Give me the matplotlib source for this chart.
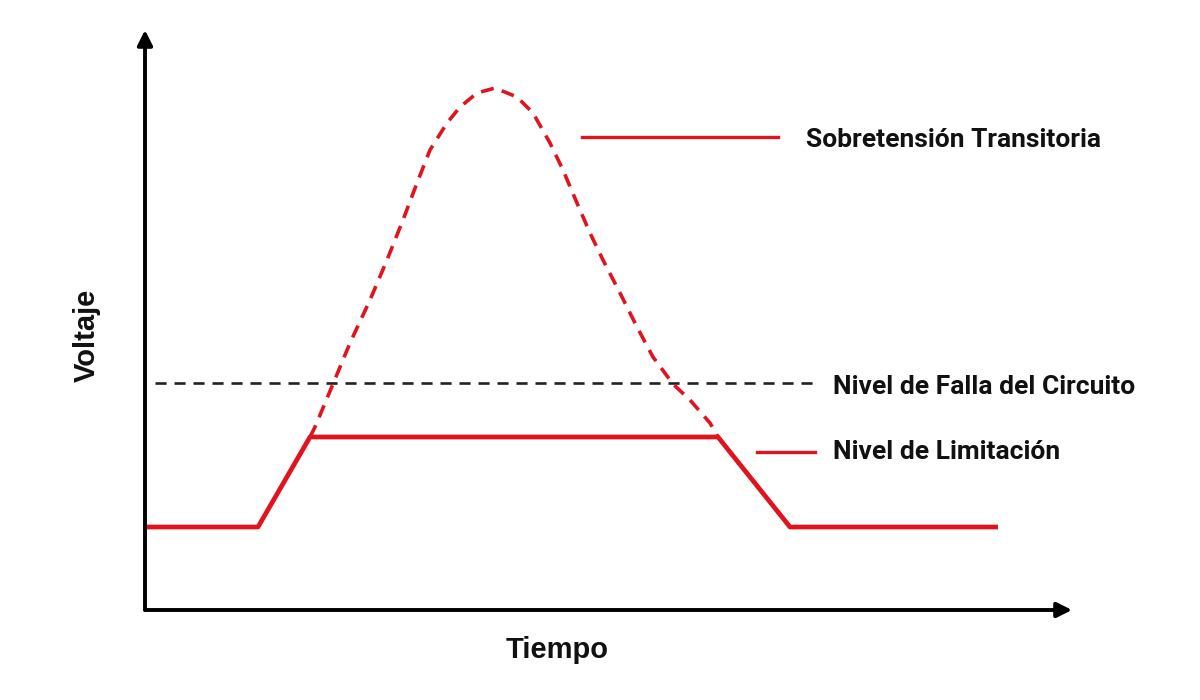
import matplotlib
matplotlib.use("Agg")
import matplotlib.pyplot as plt

# --- data (time, voltage in arbitrary units) ---
clamp_t = [0.0, 1.13, 1.65, 5.73, 6.45, 8.53]
clamp_v = [0.83, 0.83, 1.73, 1.73, 0.83, 0.83]

surge_t = [1.65, 1.70, 1.88, 2.05, 2.25, 2.42, 2.58, 2.72, 2.85, 3.02, 3.15, 3.32,
           3.50, 3.72, 3.88, 4.05, 4.18, 4.32, 4.45, 4.58, 4.75, 4.92, 5.08, 5.28,
           5.45, 5.65, 5.73]
surge_v = [1.73, 1.83, 2.26, 2.67, 3.10, 3.50, 3.90, 4.27, 4.60, 4.87, 5.03, 5.17,
           5.22, 5.13, 4.97, 4.67, 4.40, 4.07, 3.77, 3.50, 3.17, 2.83, 2.53, 2.26,
           2.10, 1.87, 1.73]

fault_t = [0.10, 6.75]
fault_v = [2.27, 2.27]

labels = ["Sobretensión Transitoria", "Nivel de Falla del Circuito", "Nivel de Limitación"]
xlabel = "Tiempo"
ylabel = "Voltaje"

RED = "#e0141e"

fig = plt.figure(figsize=(12, 7), dpi=100)
ax = fig.add_axes([145/1200, 90/700, 927/1200, 580/700])
ax.set_xlim(0, 9.27)
ax.set_ylim(0, 5.8)
for s in ax.spines.values():
    s.set_visible(False)
ax.set_xticks([])
ax.set_yticks([])

# axes arrows
arrow = dict(arrowstyle="-|>,head_length=0.9,head_width=0.45", lw=2.8, color="black",
             shrinkA=0, shrinkB=0)
ax.annotate("", xy=(0, 1), xytext=(0, 0), xycoords="axes fraction", arrowprops=arrow)
ax.annotate("", xy=(1, 0), xytext=(0, 0), xycoords="axes fraction", arrowprops=arrow)

# lines
ax.plot(fault_t, fault_v, color="#222222", lw=1.9, ls=(0, (4.2, 3.0)), clip_on=False)
ax.plot(surge_t, surge_v, color=RED, lw=2.6, ls=(0, (3.6, 2.4)), clip_on=False)
ax.plot(clamp_t, clamp_v, color=RED, lw=3.4, solid_joinstyle="round",
        solid_capstyle="butt", clip_on=False)

# legend-like annotations
ax.plot([4.37, 6.33], [4.73, 4.73], color=RED, lw=2.4, clip_on=False)
ax.plot([6.12, 6.70], [1.58, 1.58], color=RED, lw=2.4, clip_on=False)

tfont = dict(family=["Roboto", "DejaVu Sans"], fontsize=19, fontweight="bold",
             va="center", ha="left", color="#111111")
ax.text(6.61, 4.70, labels[0], clip_on=False, **tfont)
ax.text(6.88, 2.23, labels[1], clip_on=False, **tfont)
ax.text(6.88, 1.58, labels[2], clip_on=False, **tfont)

lfont = dict(family=["Liberation Sans", "DejaVu Sans"], fontsize=21, fontweight="bold",
             color="#111111")
fig.text(557/1200, 1 - 650/700, xlabel, ha="center", va="center", **lfont)
fig.text(87/1200, 1 - 335/700, ylabel, ha="center", va="center", rotation=90, **lfont)

fig.savefig("out.png", dpi=100, facecolor="white")
